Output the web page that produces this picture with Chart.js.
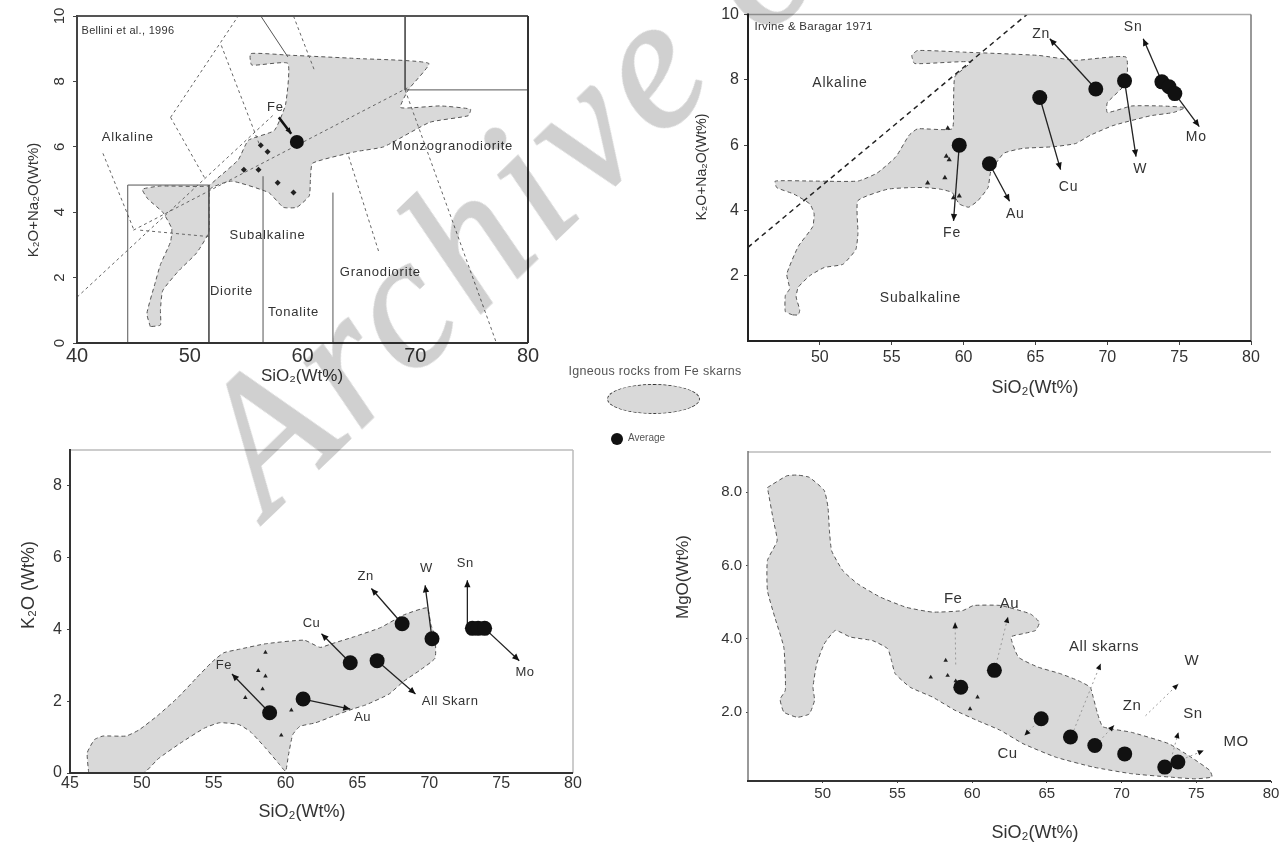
<!DOCTYPE html>
<html>
<head>
<meta charset="utf-8">
<title>Skarn igneous rocks</title>
<script src="https://cdn.jsdelivr.net/npm/chart.js@4.4.1/dist/chart.umd.min.js"></script>
<style>
    html, body { margin: 0; padding: 0; background: #fff; }
    body { position: relative; width: 1288px; height: 846px; overflow: hidden; font-family: Arial, "Liberation Sans", sans-serif; }
    canvas { position: absolute; }
    #legend-text { position: absolute; left: 545px; top: 364px; width: 220px; text-align: center; font-size: 12.5px; color: #555; letter-spacing: 0.3px; }
    #legend-shape { position: absolute; left: 607px; top: 384px; width: 91px; height: 28px; border: 1.5px dashed #333; border-radius: 50%; background: #d9d9d9; }
    #legend-dot { position: absolute; left: 611px; top: 433px; width: 12px; height: 12px; border-radius: 50%; background: #111; }
    #legend-avg { position: absolute; left: 628px; top: 432px; font-size: 10px; color: #555; }
    #watermark {
        position: absolute; left: 268px; top: 361px;
        font: italic 188px "Liberation Serif", "Times New Roman", serif; line-height: 1; letter-spacing: 8px;
        color: #d0d0d0; -webkit-text-stroke: 2px #d0d0d0; mix-blend-mode: multiply; white-space: nowrap;
        transform-origin: 0 157px; transform: rotate(-44deg); pointer-events: none;
    }
</style>
</head>
<body>
<canvas id="tas-a" width="560" height="400" style="left:0;top:0"></canvas>
<canvas id="tas-b" width="608" height="410" style="left:680px;top:0"></canvas>
<canvas id="k2o" width="600" height="416" style="left:0;top:430px"></canvas>
<canvas id="mgo" width="628" height="416" style="left:660px;top:430px"></canvas>

<div id="legend-text">Igneous rocks from Fe skarns</div>
<div id="legend-shape"></div>
<div id="legend-dot"></div>
<div id="legend-avg">Average</div>
<div id="watermark">Archive of SID</div>

<script>
// Data: top-left, K2O+Na2O vs SiO2 (Bellini et al.)
const aTicksX = [40, 50, 60, 70, 80];
const aTicksY = [0, 2, 4, 6, 8, 10];
const aOutline = [[46.5,0.5],[46.2,0.9],[46.9,1.8],[47.4,2.4],[48.3,3.1],[48.4,3.5],[47.6,4.0],[46.3,4.4],[45.8,4.7],[47.4,4.8],
    [51.6,4.8],[52.5,5.05],[54.3,5.6],[55.2,6.2],[57.5,6.5],[58.5,7.3],[58.7,8.55],[55.5,8.5],[55.4,8.85],[58.9,8.8],[64.8,8.7],
    [71.2,8.55],[69.4,7.75],[68.7,7.2],[72.2,7.25],[74.9,7.15],[74.7,6.95],[71.3,6.75],[67.2,6.0],[64.7,5.85],[60.9,5.5],[60.7,5.0],
    [60.6,4.5],[59.5,4.15],[58.3,4.15],[57.0,4.6],[53.7,4.95],[51.8,4.7],[51.7,3.4],[50.6,2.75],[49.0,2.2],[47.6,1.6],[47.4,1.0],
    [47.4,0.55],[46.5,0.5]];
const aAverage = [[59.5, 6.15]];
const aSamples = [[56.3,6.05],[56.9,5.85],[54.8,5.3],[56.1,5.3],[57.8,4.9],[59.2,4.6]];
const aFeArrow = [[57.9,6.9],[59.0,6.4]];
const aDashed = [
    [[40,1.4],[57.5,7.0]], [[45,3.45],[69.3,7.8]], [[48.3,6.9],[54.3,10]], [[48.3,6.9],[51.4,5.0]],
    [[42.3,5.8],[45,3.5]], [[52.8,9.1],[56.2,6.05]], [[45.6,3.45],[51.8,3.25]], [[59.2,10],[61.1,8.3]],
    [[69.1,7.74],[77.2,0]], [[64.1,5.7],[66.8,2.75]]
];
const aSolid = [
    [[44.5,0],[44.5,4.83],[51.7,4.83],[51.7,0]], [[56.5,0],[56.5,5.1]], [[62.7,0],[62.7,4.6]],
    [[69.1,10],[69.1,7.74],[80,7.74]], [[56.3,10],[58.7,8.75]]
];
const aNames = [['Alkaline',44.5,6.3],['Subalkaline',56.9,3.3],['Monzogranodiorite',73.3,6.02],['Granodiorite',66.9,2.17],
    ['Diorite',53.7,1.59],['Tonalite',59.2,0.95],['Fe',57.6,7.2]];
const aSource = ['Bellini et al., 1996', 40.4, 9.55, 'left'];

// Data: top-right, K2O+Na2O vs SiO2 (Irvine & Baragar)
const bTicksX = [50, 55, 60, 65, 70, 75, 80];
const bTicksY = [2, 4, 6, 8, 10];
const bOutline = [[48.1,0.8],[47.6,0.9],[47.6,1.4],[47.9,1.6],[47.7,2.05],[48.5,2.9],[49.5,3.5],[49.6,3.9],[49.3,4.2],[48.2,4.5],
    [47.0,4.7],[46.9,4.9],[49.5,4.9],[52.65,4.9],[54.0,5.15],[55.3,5.65],[56.2,6.3],[56.8,6.5],[59.2,6.5],[59.3,7.3],[59.4,8.1],
    [60.5,8.55],[56.6,8.5],[56.4,8.75],[56.8,8.9],[60.0,8.85],[65.2,8.75],[67.8,8.6],[71.3,8.7],[71.3,7.9],[70.0,7.3],[70.0,7.0],
    [71.7,7.2],[73.8,7.2],[75.4,7.15],[74.6,7.0],[73.0,6.9],[70.4,6.6],[68.8,6.3],[67.8,6.05],[66.2,5.95],[64.1,5.9],[62.8,5.75],
    [61.9,5.2],[61.7,4.7],[61.0,4.3],[60.35,4.1],[59.7,4.2],[59.2,4.55],[58.4,4.65],[57.35,4.7],[56.3,4.7],[54.7,4.65],[52.65,4.3],
    [52.65,3.3],[52.5,2.8],[51.6,2.35],[50.3,2.25],[49.3,2.0],[48.5,1.65],[48.35,1.35],[48.6,0.95],[48.5,0.8],[48.1,0.8]];
const bAverage = [[59.7,6.0],[61.8,5.43],[65.3,7.46],[69.2,7.72],[71.2,7.97],[73.8,7.94],[74.3,7.79],[74.7,7.58]];
const bSamples = [[58.9,6.52],[58.8,5.66],[59.0,5.55],[57.5,4.84],[58.7,5.0],[59.7,4.44],[59.3,4.39]];
const bArrows = [
    [[69.2,7.72],[66.0,9.26]], [[73.8,7.94],[72.5,9.26]], [[74.7,7.58],[76.4,6.57]], [[71.2,7.97],[72.0,5.65]],
    [[65.3,7.46],[66.75,5.25]], [[61.8,5.43],[63.2,4.28]], [[59.7,6.0],[59.3,3.68]]
];
const bDivide = [[45,2.87],[64.4,10]];
const bNames = [['Alkaline',51.4,7.9],['Subalkaline',57.0,1.31],['Zn',65.4,9.4],['Sn',71.8,9.63],['Mo',76.2,6.25],
    ['W',72.3,5.27],['Cu',67.3,4.7],['Au',63.6,3.9],['Fe',59.2,3.3]];
const bSource = ['Irvine & Baragar 1971', 45.45, 9.63, 'left'];

// Data: bottom-left, K2O vs SiO2
const cTicksX = [45, 50, 55, 60, 65, 70, 75, 80];
const cTicksY = [0, 2, 4, 6, 8];
const cOutline = [[46.3,0],[46.2,0.56],[46.7,0.93],[47.3,1.03],[48.9,1.03],[49.8,1.2],[51.1,1.6],[52.5,2.1],[53.8,2.65],[54.9,3.1],
    [55.7,3.35],[56.8,3.45],[58.6,3.6],[61.3,3.7],[62.4,3.5],[63.2,3.6],[64.8,3.8],[66.6,4.05],[68.2,4.4],[69.85,4.6],[70.1,4.15],
    [70.4,3.8],[70.4,3.2],[69.3,2.85],[68.2,2.55],[67.2,2.2],[65.6,1.9],[64.8,1.8],[63.4,1.6],[62.1,1.4],[61.0,1.3],[60.5,1.07],
    [60.2,0.5],[60.0,0.05],[59.55,0.25],[58.6,0.7],[57.55,1.15],[56.75,1.35],[55.4,1.4],[54.35,1.25],[52.75,0.85],[51.15,0.4],
    [50.1,0],[46.3,0]];
const cAverage = [[58.89,1.68],[61.22,2.06],[64.5,3.07],[66.37,3.13],[68.11,4.16],[70.19,3.74],[73.0,4.03],[73.4,4.03],[73.85,4.03]];
const cSamples = [[58.6,3.36],[58.1,2.85],[58.6,2.7],[58.4,2.34],[57.2,2.1],[60.4,1.75],[59.7,1.05]];
const cArrows = [
    [[58.89,1.68],[56.27,2.76]], [[61.22,2.06],[64.5,1.78]], [[64.5,3.07],[62.5,3.88]], [[66.37,3.13],[69.04,2.2]],
    [[68.11,4.16],[65.97,5.14]], [[70.19,3.74],[69.71,5.23]], [[72.65,4.03],[72.65,5.37]], [[73.85,4.03],[76.26,3.13]]
];
const cNames = [['Fe',55.7,2.99],['Au',65.36,1.54],['Cu',61.8,4.18],['All Skarn',71.45,2.0],['Zn',65.57,5.47],
    ['W',69.8,5.7],['Sn',72.5,5.84],['Mo',76.66,2.8]];

// Data: bottom-right, MgO vs SiO2
const dTicksX = [50, 55, 60, 65, 70, 75, 80];
const dTicksY = [2, 4, 6, 8];
const dOutline = [[46.3,8.13],[47.6,8.45],[48.3,8.47],[49.1,8.41],[50.1,8.05],[50.35,7.6],[50.45,6.95],[50.6,6.4],[51.35,5.86],
    [52.35,5.5],[53.85,5.14],[55.6,4.86],[57.35,4.73],[59.35,4.77],[60.1,4.91],[61.9,4.91],[63.9,4.68],[64.5,4.45],[64.25,4.23],
    [63.4,4.14],[62.6,4.05],[63.1,3.5],[64.4,3.23],[65.9,3.05],[67.1,2.86],[67.9,2.68],[68.1,2.41],[68.4,1.95],[68.75,1.6],
    [70.65,1.45],[73.15,1.14],[74.65,0.77],[75.9,0.41],[76.05,0.23],[74.9,0.18],[73.15,0.23],[70.65,0.32],[68.1,0.5],[65.6,0.77],
    [63.4,1.14],[61.9,1.5],[60.35,1.77],[58.85,2.05],[57.35,2.41],[55.85,2.68],[54.85,3.05],[54.6,3.41],[54.35,3.73],[53.35,3.95],
    [51.85,4.05],[50.85,4.23],[50.1,3.86],[49.6,3.32],[49.35,2.68],[49.45,2.32],[49.1,1.95],[48.3,1.86],[47.4,2.0],[47.15,2.35],
    [47.5,2.6],[47.4,3.76],[46.8,4.58],[46.3,5.32],[46.3,6.14],[46.95,6.68],[46.7,7.23],[46.3,8.13]];
const dAverage = [[59.24,2.68],[61.49,3.14],[64.62,1.82],[66.58,1.32],[68.21,1.09],[70.21,0.86],[72.89,0.5],[73.77,0.64]];
const dSamples = [[57.23,2.95],[58.23,3.41],[58.36,3.0],[58.9,2.85],[60.36,2.41],[59.86,2.09]];
const dArrows = [
    [[58.9,3.3],[58.86,4.45]], [[61.6,3.3],[62.4,4.6]], [[66.8,1.5],[68.6,3.32]], [[71.6,1.9],[73.8,2.77]],
    [[68.5,1.2],[69.5,1.64]], [[73.4,0.85],[73.8,1.45]], [[74.3,0.75],[75.5,0.95]], [[64.6,1.82],[63.5,1.36]]
];
const dNames = [['Fe',58.73,5.09],['Au',62.5,4.95],['All skarns',68.83,3.77],['W',74.7,3.41],['Zn',70.7,2.18],
    ['Sn',74.77,1.95],['MO',77.66,1.18],['Cu',62.37,0.86]];


// Plugins
const FONT = 'Arial, "Liberation Sans", sans-serif';
Chart.defaults.font.family = FONT;
Chart.defaults.color = '#333';

const framePlugin = {
    id: 'frame',
    afterDatasetsDraw(chart, args, o) {
        const {ctx, chartArea: a} = chart;
        const side = (s, x1, y1, x2, y2) => {
            if (!s) return;
            ctx.beginPath();
            ctx.strokeStyle = s[0];
            ctx.lineWidth = s[1];
            ctx.moveTo(x1, y1);
            ctx.lineTo(x2, y2);
            ctx.stroke();
        };
        ctx.save();
        side(o.top, a.left, a.top, a.right, a.top);
        side(o.right, a.right, a.top, a.right, a.bottom);
        side(o.left, a.left, a.top - 1, a.left, a.bottom + 1);
        side(o.bottom, a.left - 1, a.bottom, a.right, a.bottom);
        ctx.restore();
    }
};

const arrowPlugin = {
    id: 'arrowHeads',
    afterDatasetsDraw(chart) {
        const ctx = chart.ctx;
        chart.data.datasets.forEach((ds, i) => {
            if (!ds.arrowSize) return;
            const pts = chart.getDatasetMeta(i).data;
            const a = pts[pts.length - 2], b = pts[pts.length - 1];
            const s = ds.arrowSize;
            ctx.save();
            ctx.translate(b.x, b.y);
            ctx.rotate(Math.atan2(b.y - a.y, b.x - a.x));
            ctx.beginPath();
            ctx.moveTo(0, 0);
            ctx.lineTo(-s, -s * 0.45);
            ctx.lineTo(-s, s * 0.45);
            ctx.closePath();
            ctx.fillStyle = '#111';
            ctx.fill();
            ctx.restore();
        });
    }
};

// text placed in data units through the scales
const notesPlugin = {
    id: 'notes',
    afterDraw(chart, args, o) {
        if (!o.items) return;
        const {ctx, scales: {x, y}} = chart;
        const write = (list, font, spacing) => {
            ctx.save();
            ctx.fillStyle = '#333';
            ctx.font = font;
            ctx.letterSpacing = spacing || '0px';
            ctx.textBaseline = 'middle';
            list.forEach(([text, vx, vy, align]) => {
                ctx.textAlign = align || 'center';
                ctx.fillText(text, x.getPixelForValue(vx), y.getPixelForValue(vy));
            });
            ctx.restore();
        };
        write(o.items, o.font, o.spacing);
        if (o.source) write([o.source], o.sourceFont, '0.3px');
    }
};

// axis titles (and the sideways y tick labels of the first panel)
const titlesPlugin = {
    id: 'titles',
    afterDraw(chart, args, o) {
        const ctx = chart.ctx;
        const put = (text, px, py, rot, font) => {
            ctx.save();
            ctx.translate(px, py);
            ctx.rotate(rot || 0);
            ctx.font = font;
            ctx.fillStyle = '#333';
            ctx.textAlign = 'center';
            ctx.textBaseline = 'middle';
            ctx.fillText(text, 0, 0);
            ctx.restore();
        };
        (o.items || []).forEach(t => put(t.text, t.x, t.y, t.rot, t.font));
        if (o.sideTicksX) {
            const ys = chart.scales.y;
            ys.ticks.forEach(t => put(String(t.value), o.sideTicksX, ys.getPixelForValue(t.value), -Math.PI / 2, o.sideFont));
        }
    }
};

Chart.register(framePlugin, arrowPlugin, notesPlugin, titlesPlugin);


// Builders
const toXY = arr => arr.map(([x, y]) => ({x, y}));

const outlineSet = arr => ({
    data: toXY(arr), showLine: true, fill: 'shape', backgroundColor: '#d9d9d9',
    borderColor: '#555', borderWidth: 1, borderDash: [4, 3], pointRadius: 0, tension: 0.15, order: 10
});
const lineSet = (arr, color, width, dash) => ({
    data: toXY(arr), showLine: true, fill: false, borderColor: color, borderWidth: width,
    borderDash: dash || [], pointRadius: 0, order: 8
});
const arrowSet = (arr, color, width, dash, size) => ({
    data: toXY(arr), showLine: true, fill: false, borderColor: color, borderWidth: width,
    borderDash: dash || [], pointRadius: 0, order: 3, arrowSize: size
});
const dotSet = (arr, r) => ({
    data: toXY(arr), showLine: false, pointRadius: r, pointBackgroundColor: '#111',
    pointBorderColor: '#111', pointBorderWidth: 0, order: 1
});
const sampleSet = (arr, style, r) => ({
    data: toXY(arr), showLine: false, pointStyle: style, pointRadius: r, pointBackgroundColor: '#222',
    pointBorderColor: '#222', pointBorderWidth: 0, order: 2
});

const axis = (c, horizontal) => ({
    type: 'linear', min: c.min, max: c.max,
    afterBuildTicks: s => { s.ticks = c.ticks.map(v => ({value: v})); },
    afterFit: s => { if (horizontal) s.height = c.size; else s.width = c.size; },
    border: {display: false},
    grid: {display: true, drawOnChartArea: false, drawTicks: true, tickLength: c.tick, color: '#444', lineWidth: 1},
    ticks: {
        display: c.labels !== false, font: {size: c.font}, color: '#333', padding: c.pad,
        maxRotation: 0, minRotation: 0, autoSkip: false, callback: c.fmt || (v => String(v))
    }
});

const panel = (id, o) => new Chart(document.getElementById(id), {
    type: 'scatter',
    data: {datasets: o.datasets},
    options: {
        responsive: false, animation: false, events: [],
        layout: {padding: o.pad},
        plugins: {
            legend: {display: false}, tooltip: {enabled: false},
            frame: o.frame, notes: o.notes, titles: o.titles
        },
        scales: {x: axis(o.x, true), y: axis(o.y, false)}
    }
});


// Panel: Bellini et al.
panel('tas-a', {
    pad: {left: 0, top: 16, right: 32, bottom: 0},
    x: {min: 40, max: 80, ticks: aTicksX, size: 57, tick: 0, font: 20, pad: 1},
    y: {min: 0, max: 10, ticks: aTicksY, size: 77, tick: 4, font: 14, pad: 4, labels: false},
    frame: {top: ['#555', 2], right: ['#333', 2], left: ['#444', 2], bottom: ['#333', 2]},
    datasets: [
        dotSet(aAverage, 7),
        sampleSet(aSamples, 'rectRot', 3),
        arrowSet(aFeArrow, '#111', 2.5, [], 6),
        ...aSolid.map(l => lineSet(l, '#555', 1)),
        ...aDashed.map(l => lineSet(l, '#666', 1, [3, 3])),
        outlineSet(aOutline)
    ],
    notes: {font: '13px ' + FONT, spacing: '0.8px', items: aNames, source: aSource, sourceFont: '11px ' + FONT},
    titles: {
        items: [
            {text: 'SiO\u2082(Wt%)', x: 302, y: 376, font: '17px ' + FONT},
            {text: 'K\u2082O+Na\u2082O(Wt%)', x: 34, y: 200, rot: -Math.PI / 2, font: '15px ' + FONT}
        ],
        sideTicksX: 60, sideFont: '15px ' + FONT
    }
});

// Panel: Irvine & Baragar
panel('tas-b', {
    pad: {left: 0, top: 13, right: 37, bottom: 0},
    x: {min: 45, max: 80, ticks: bTicksX, size: 69, tick: 4, font: 16, pad: 3},
    y: {min: 0, max: 10, ticks: bTicksY, size: 68, tick: 4, font: 16, pad: 5},
    frame: {top: ['#aaa', 1.5], right: ['#777', 1.5], left: ['#222', 2], bottom: ['#222', 2]},
    datasets: [
        dotSet(bAverage, 7.5),
        sampleSet(bSamples, 'triangle', 3),
        ...bArrows.map(l => arrowSet(l, '#222', 1.3, [], 7)),
        lineSet(bDivide, '#222', 1.5, [5, 4]),
        outlineSet(bOutline)
    ],
    notes: {font: '14px ' + FONT, spacing: '0.8px', items: bNames, source: bSource, sourceFont: '11.5px ' + FONT},
    titles: {items: [
        {text: 'SiO\u2082(Wt%)', x: 355, y: 388, font: '18px ' + FONT},
        {text: 'K\u2082O+Na\u2082O(Wt%)', x: 22, y: 167, rot: -Math.PI / 2, font: '14px ' + FONT}
    ]}
});

// Panel: K2O
panel('k2o', {
    pad: {left: 0, top: 20, right: 27, bottom: 0},
    x: {min: 45, max: 80, ticks: cTicksX, size: 73, tick: 0, font: 16, pad: 1},
    y: {min: 0, max: 9, ticks: cTicksY, size: 70, tick: 3, font: 16, pad: 5},
    frame: {top: ['#bbb', 1.5], right: ['#bbb', 1.5], left: ['#333', 2], bottom: ['#333', 2]},
    datasets: [
        dotSet(cAverage, 7.5),
        sampleSet(cSamples, 'triangle', 2.6),
        ...cArrows.map(l => arrowSet(l, '#222', 1.3, [], 7)),
        outlineSet(cOutline)
    ],
    notes: {font: '13px ' + FONT, spacing: '0.5px', items: cNames},
    titles: {items: [
        {text: 'SiO\u2082(Wt%)', x: 302, y: 382, font: '18px ' + FONT},
        {text: 'K\u2082O (Wt%)', x: 29, y: 155, rot: -Math.PI / 2, font: '18px ' + FONT}
    ]}
});

// Panel: MgO
panel('mgo', {
    pad: {left: 0, top: 22, right: 17, bottom: 0},
    x: {min: 45, max: 80, ticks: dTicksX, size: 65, tick: 2, font: 15, pad: 2},
    y: {min: 0.12, max: 9.1, ticks: dTicksY, size: 88, tick: 2, font: 15, pad: 4, fmt: v => v.toFixed(1)},
    frame: {top: ['#bbb', 1.5], left: ['#777', 1.5], bottom: ['#333', 2]},
    datasets: [
        dotSet(dAverage, 7.5),
        sampleSet(dSamples, 'triangle', 2.6),
        ...dArrows.map(l => arrowSet(l, '#999', 1, [2, 3], 6)),
        outlineSet(dOutline)
    ],
    notes: {font: '15px ' + FONT, spacing: '0.5px', items: dNames},
    titles: {items: [
        {text: 'SiO\u2082(Wt%)', x: 375, y: 403, font: '18px ' + FONT},
        {text: 'MgO(Wt%)', x: 23, y: 147, rot: -Math.PI / 2, font: '17px ' + FONT}
    ]}
});
</script>
</body>
</html>
